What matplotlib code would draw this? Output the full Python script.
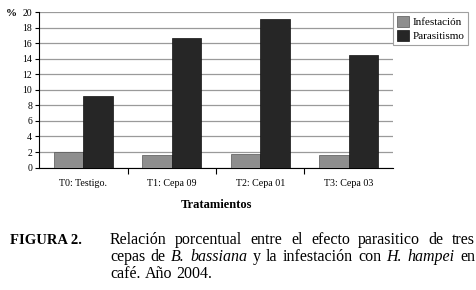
import matplotlib.pyplot as plt
import numpy as np

# data
tratamientos = ["T0: Testigo.", "T1: Cepa 09", "T2: Cepa 01", "T3: Cepa 03"]
infestacion = [2.0, 1.6, 1.7, 1.6]
parasitismo = [9.2, 16.7, 19.2, 14.5]
yticks = list(range(0, 21, 2))

plt.rcParams['font.family'] = ['Liberation Serif', 'DejaVu Serif']

fig = plt.figure(figsize=(4.77, 2.90), dpi=100)
ax = fig.add_axes([0.0818, 0.4224, 0.742, 0.5346])

x = np.arange(len(tratamientos))
w = 1 / 3
ax.bar(x - w / 2, infestacion, w, color='#8e8e8e', edgecolor='#555555',
       linewidth=0.5, label='Infestación', zorder=3)
ax.bar(x + w / 2, parasitismo, w, color='#262626', edgecolor='#111111',
       linewidth=0.5, label='Parasitismo', zorder=3)

ax.set_xlim(-0.5, len(tratamientos) - 0.5)
ax.set_ylim(0, 20)
ax.set_yticks(yticks)
ax.tick_params(axis='y', labelsize=7, length=3, width=0.8, pad=2)
ax.set_xticks(x)
ax.set_xticklabels(tratamientos, fontsize=7.2)
ax.tick_params(axis='x', length=0, pad=8)
ax.set_xticks(x[:-1] + 0.5, minor=True)
ax.tick_params(axis='x', which='minor', length=4, width=0.8, direction='out')
ax.grid(axis='y', color='#9a9a9a', linewidth=0.9, zorder=0)
for s in ['top', 'right']:
    ax.spines[s].set_visible(False)
ax.spines['left'].set_linewidth(0.8)
ax.spines['bottom'].set_linewidth(0.8)

ax.set_xlabel('Tratamientos', fontsize=9, fontweight='bold', labelpad=8)
fig.text(0.012, 0.955, '%', fontsize=8, fontweight='bold', va='center')

leg = ax.legend(loc='upper left', bbox_to_anchor=(1.0, 1.0), fontsize=8,
                frameon=True, fancybox=False, edgecolor='#888888',
                handlelength=1.1, handleheight=1.1, handletextpad=0.3,
                borderpad=0.35, labelspacing=0.25, borderaxespad=0.0)
leg.get_frame().set_linewidth(0.8)

# caption, justified word by word
fig.text(0.021, 1 - 240 / 290, 'FIGURA 2.', fontsize=10.5, fontweight='bold', va='center')
lineas = [
    [("Relación", 'normal'), ("porcentual", 'normal'), ("entre", 'normal'), ("el", 'normal'),
     ("efecto", 'normal'), ("parasitico", 'normal'), ("de", 'normal'), ("tres", 'normal')],
    [("cepas", 'normal'), ("de", 'normal'), ("B.", 'italic'), ("bassiana", 'italic'),
     ("y", 'normal'), ("la", 'normal'), ("infestación", 'normal'), ("con", 'normal'),
     ("H.", 'italic'), ("hampei", 'italic'), ("en", 'normal')],
    [("café.", 'normal'), ("Año", 'normal'), ("2004.", 'normal')],
]
x0, x1 = 110, 475
fs = 11.5
renderer = fig.canvas.get_renderer()
for i, palabras in enumerate(lineas):
    y = 1 - (240 + 17 * i) / 290
    textos = [fig.text(0, y, p, fontsize=fs, style=st, va='center') for p, st in palabras]
    anchos = [t.get_window_extent(renderer).width for t in textos]
    if i < len(lineas) - 1:
        hueco = (x1 - x0 - sum(anchos)) / (len(textos) - 1)
    else:
        hueco = 0.25 * fs * 100 / 72
    pos = x0
    for t, a in zip(textos, anchos):
        t.set_x(pos / 477)
        pos += a + hueco

fig.savefig('out.png', dpi=100)
